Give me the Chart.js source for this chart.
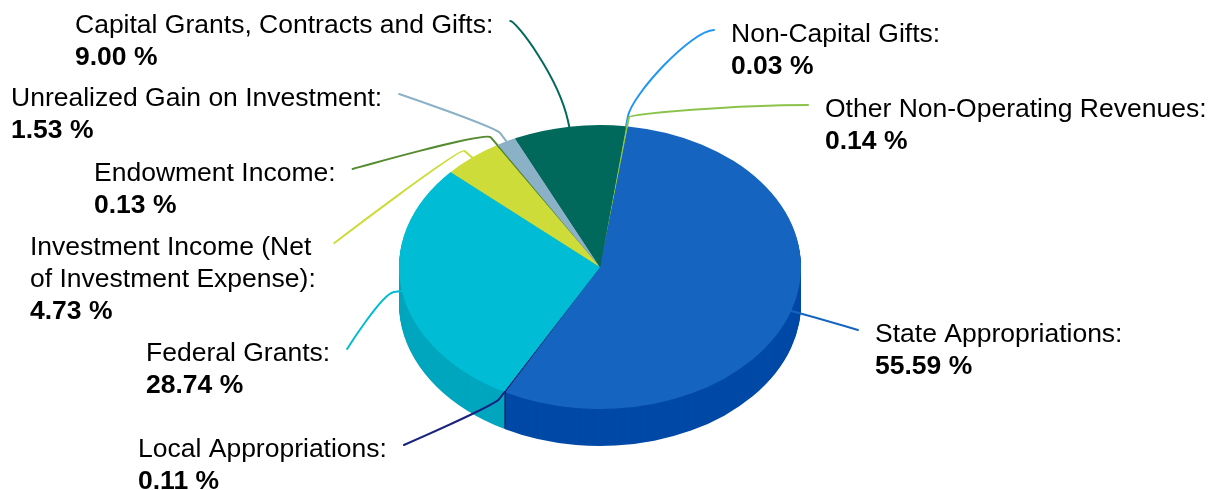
<!DOCTYPE html>
<html>
<head>
<meta charset="utf-8">
<script src="https://cdn.jsdelivr.net/npm/chart.js@4.4.1/dist/chart.umd.min.js"></script>
<style>
  html, body { margin: 0; padding: 0; background: #fff; }
  #wrap { width: 1217px; height: 490px; }
</style>
</head>
<body>
<div id="wrap"><canvas id="revenue-chart" width="1217" height="490"></canvas></div>
<script>
// revenue sources, clockwise from just right of twelve o'clock
const categories = [
  "Non-Capital Gifts",
  "Other Non-Operating Revenues",
  "State Appropriations",
  "Local Appropriations",
  "Federal Grants",
  "Investment Income (Net of Investment Expense)",
  "Endowment Income",
  "Unrealized Gain on Investment",
  "Capital Grants, Contracts and Gifts",
];
const shares = [0.03, 0.14, 55.59, 0.11, 28.74, 4.73, 0.13, 1.53, 9.0];
const sliceColors = [
  "#2196f3", "#8bc34a", "#1565c0", "#1a237e", "#00bcd4",
  "#cddc39", "#558b2f", "#8ab1c6", "#00695c",
];
// darker shades for the side walls
const wallColors = [
  "#1a80d4", "#75a83c", "#0049a6", "#121a66", "#00a6be",
  "#b3c22c", "#457525", "#7196aa", "#00554a",
];

// pie placement (screen px)
const W = 1217, H = 490;
const CX = 600, CY = 267, R = 201;
const TILT = 0.7065; // vertical squash of the top face
const DEPTH = 37;    // wall height

// label blocks: left edge, first baseline, which side of the pie, leader shape
const labelLayout = [
  { x: 731, y: 42, side: "right", stub: 10, curl: 22, ease: 22 },
  { x: 825, y: 117, side: "right", stub: 9, curl: 4, ease: 70 },
  { x: 875, y: 342, side: "right", stub: 0, curl: 10, ease: 0 },
  { x: 138, y: 457, side: "left", stub: 9, curl: 8, ease: 0 },
  { x: 146, y: 361, side: "left", stub: 8, curl: 12, ease: 0 },
  { x: 30, y: 255, side: "left", stub: 10, curl: 6, ease: 0, wrap: 3, gap: 23 },
  { x: 94, y: 181, side: "left", stub: 10, curl: 8, ease: 0 },
  { x: 11, y: 106, side: "left", stub: 10, curl: 8, ease: 0 },
  { x: 75, y: 33, side: "left", stub: 6, curl: 45, ease: 6 },
];
const LINE_H = 32;
const FONT = '26.5px "Liberation Sans", Arial, sans-serif';
const FONT_BOLD = 'bold 26.5px "Liberation Sans", Arial, sans-serif';

function squash(ctx, cy, dy) {
  ctx.translate(0, cy + dy);
  ctx.scale(1, TILT);
  ctx.translate(0, -cy);
}

const pie3d = {
  id: "pie3d",
  beforeDatasetsDraw(chart) {
    const ctx = chart.ctx;
    const arcs = chart.getDatasetMeta(0).data;
    const cy = arcs[0].y;

    // same arc elements, recoloured for the walls
    const walls = arcs.map((a, i) => {
      const w = Object.create(a);
      w.options = Object.assign({}, a.options, { backgroundColor: wallColors[i] });
      return w;
    });

    // walls: stack shifted copies of every slice, deepest first
    for (let d = DEPTH; d >= 1; d--) {
      ctx.save();
      squash(ctx, cy, d);
      walls.forEach((w) => w.draw(ctx));
      ctx.restore();
    }

    // top face is the normal dataset draw, squashed
    ctx.save();
    squash(ctx, cy, 0);
  },
  afterDatasetsDraw(chart) {
    chart.ctx.restore();
  },
};

const pieLabels = {
  id: "pieLabels",
  afterDraw(chart) {
    const ctx = chart.ctx;
    const arcs = chart.getDatasetMeta(0).data;

    arcs.forEach((arc, i) => {
      const spot = labelLayout[i];
      const words = (categories[i] + ":").split(" ");
      const lines = spot.wrap
        ? [words.slice(0, spot.wrap).join(" "), words.slice(spot.wrap).join(" ")]
        : [words.join(" ")];

      ctx.save();
      ctx.font = FONT;
      ctx.fillStyle = "#000";
      ctx.textBaseline = "alphabetic";
      ctx.textAlign = "left";
      lines.forEach((t, k) => ctx.fillText(t, spot.x, spot.y + k * LINE_H));
      ctx.font = FONT_BOLD;
      ctx.fillText(shares[i].toFixed(2) + " %", spot.x, spot.y + lines.length * LINE_H);

      // leader from the rim at the slice middle to the label
      ctx.font = FONT;
      const gap = spot.gap || 17;
      const firstW = ctx.measureText(lines[0]).width;
      const ex = spot.side === "left" ? spot.x + firstW + gap : spot.x - gap;
      const ey = spot.y - 12;

      const mid = (arc.startAngle + arc.endAngle) / 2;
      const ux = Math.cos(mid);
      const uy = Math.sin(mid) * TILT;
      const ax = arc.x + arc.outerRadius * ux;
      const ay = arc.y + arc.outerRadius * uy;
      const n = Math.hypot(ux, uy);
      const dx = ux / n, dy = uy / n;
      const px = ax + dx * spot.stub, py = ay + dy * spot.stub;
      const hx = spot.side === "left" ? 1 : -1;

      ctx.strokeStyle = sliceColors[i];
      ctx.lineWidth = 2;
      ctx.lineCap = "round";
      ctx.lineJoin = "round";
      ctx.beginPath();
      ctx.moveTo(ax, ay);
      ctx.lineTo(px, py);
      ctx.bezierCurveTo(
        px + dx * spot.curl, py + dy * spot.curl,
        ex + hx * spot.ease, ey,
        ex, ey
      );
      ctx.stroke();
      ctx.restore();
    });
  },
};

const ctx = document.getElementById("revenue-chart").getContext("2d");
new Chart(ctx, {
  type: "pie",
  data: {
    labels: categories,
    datasets: [
      {
        data: shares,
        backgroundColor: sliceColors,
        borderWidth: 0,
        hoverOffset: 0,
        offset: 0,
        clip: false,
      },
    ],
  },
  options: {
    responsive: false,
    devicePixelRatio: 1,
    animation: false,
    rotation: 7.4,
    layout: {
      padding: { left: CX - R, right: W - CX - R, top: CY - R, bottom: H - CY - R },
    },
    plugins: {
      legend: { display: false },
      tooltip: { enabled: false },
    },
  },
  plugins: [pie3d, pieLabels],
});
</script>
</body>
</html>
